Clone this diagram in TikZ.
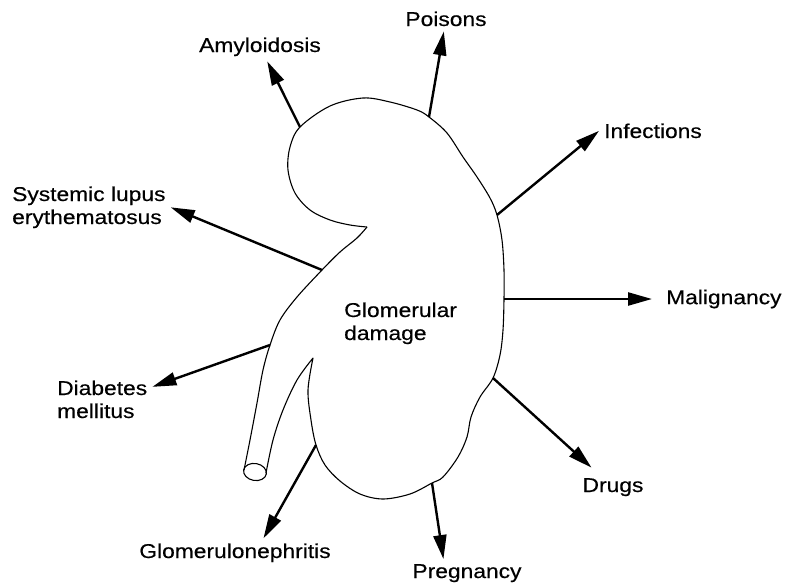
\documentclass[tikz,border=0pt]{standalone}
\usepackage{fontspec}
\setmainfont{Liberation Sans}[FakeStretch=1.14, FakeBold=0.4]
\usetikzlibrary{arrows.meta}

\begin{document}
\begin{tikzpicture}[
        x=1pt, y=-1pt,
        organ/.style={draw, line width=1.1pt, line join=round},
        cause/.style={font=\fontsize{20}{23}\selectfont, inner sep=5pt, align=left},
        arrow/.style={-{Triangle[length=24pt, width=13pt]}, line width=2.4pt}
    ]
    \useasboundingbox (0,0) rectangle (785,584);

    % Kidney - outer edge from the hilum round to the inner ureter tip
    \draw[organ] plot[smooth, tension=0.55] coordinates {
        (367,227) (350,225) (330,220) (310,210) (295,193) (288,170) (290,147)
        (300,127) (330,106) (363,98) (390,102) (417,110) (429,117) (447,133)
        (463,157) (477,177) (490,198) (497,215) (502,240) (504,270) (504,299)
        (503,330) (500,355) (493,378) (480,397) (471,417) (467,437) (458,457)
        (443,477) (432,483) (410,494) (383,499) (360,494) (340,481) (325,465)
        (316,445) (311,420) (308,390) (313,358)}
        -- plot[smooth, tension=0.55] coordinates {
        (313,358) (297,380) (283,410) (273,440) (266,473)};

    % Ureter - outer wall back up to the hilum, and the open end
    \draw[organ] plot[smooth, tension=0.55] coordinates {
        (244,470) (250,440) (257,403) (263,370) (270,345) (280,320)
        (297,297) (322,270) (340,252) (357,238) (367,227)};
    \draw[organ, rotate around={-10:(255,472)}] (255,472) ellipse [x radius=11.5, y radius=8.5];

    \node[cause, anchor=base west] (glom) at (339,340) {Glomerular\\damage};

    % Points on the kidney where the arrows leave
    \coordinate (k-amyloid) at (300,127);
    \coordinate (k-poisons) at (429,117);
    \coordinate (k-infect) at (497,215);
    \coordinate (k-malig) at (504,299);
    \coordinate (k-drugs) at (493,378);
    \coordinate (k-preg) at (432,483);
    \coordinate (k-glomneph) at (316,445);
    \coordinate (k-diabetes) at (270,345);
    \coordinate (k-sle) at (322,270);

    % Causes round the kidney
    \node[cause, anchor=base] (amyloid) at (260,52) {Amyloidosis};
    \node[cause, anchor=base] (poisons) at (446,26) {Poisons};
    \node[cause, anchor=base west] (infect) at (599,138) {Infections};
    \node[cause, anchor=west] (malig) at (661,299) {Malignancy};
    \node[cause, anchor=base] (drugs) at (613,492) {Drugs};
    \node[cause, anchor=base] (preg) at (467,578) {Pregnancy};
    \node[cause, anchor=base] (glomneph) at (235,558) {Glomerulonephritis};
    \node[cause, anchor=base west] (diabetes) at (52,418) {Diabetes\\mellitus};
    \node[cause, anchor=base west] (sle) at (7,224) {Systemic lupus\\erythematosus};

    % Arrows
    \draw[arrow] (k-amyloid) -- (amyloid);
    \draw[arrow] (k-poisons) -- (poisons);
    \draw[arrow] (k-infect) -- (infect.west);
    \draw[arrow, shorten >=9pt] (k-malig) -- (malig.west);
    \draw[arrow, shorten >=8pt] (k-drugs) -- (drugs);
    \draw[arrow] (k-preg) -- (preg.149);
    \draw[arrow] (k-glomneph) -- (glomneph.27);
    \draw[arrow] (k-diabetes) -- (diabetes.14);
    \draw[arrow] (k-sle) -- (sle.east);

\end{tikzpicture}
\end{document}
